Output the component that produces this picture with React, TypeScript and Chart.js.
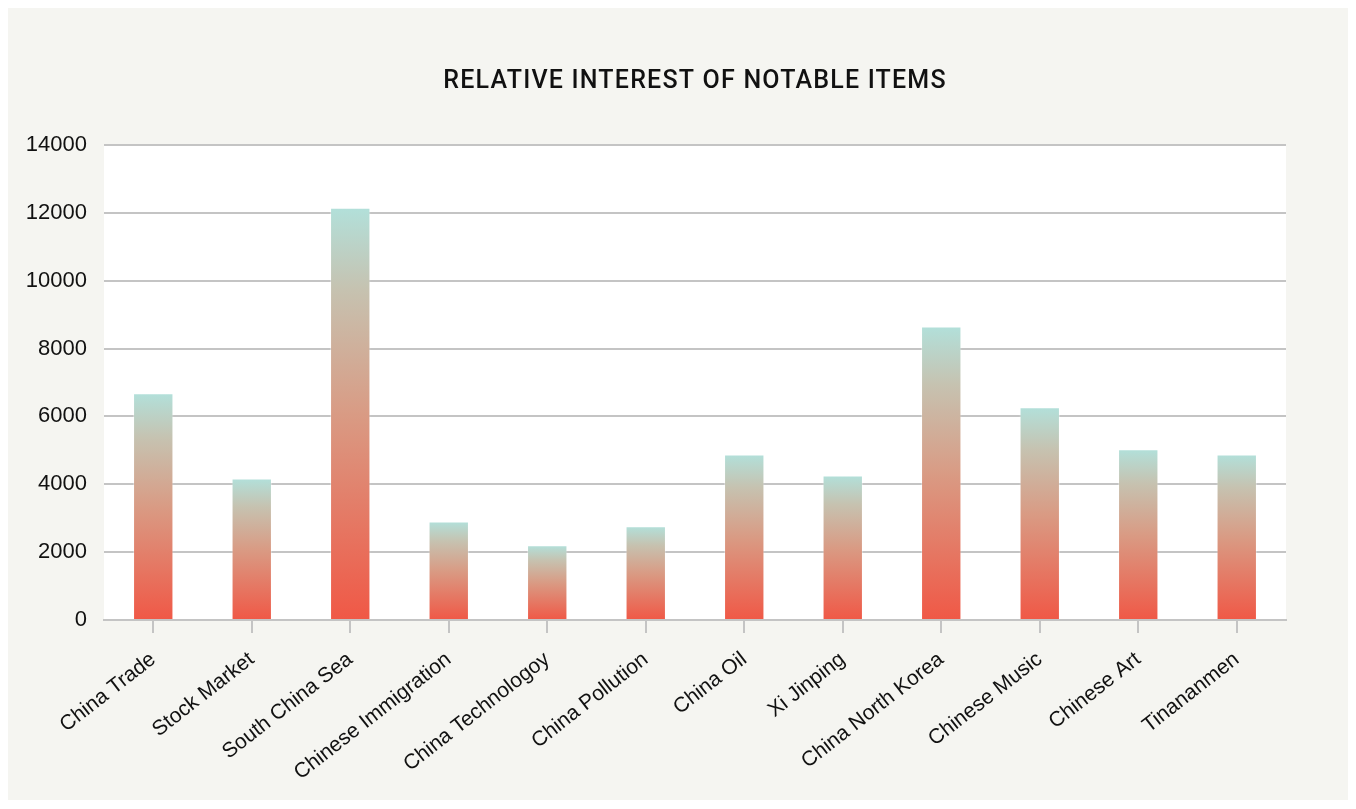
import React, { useEffect, useRef } from "react";
import { Chart, registerables } from "chart.js";

Chart.register(...registerables);

const TITLE = "RELATIVE INTEREST OF NOTABLE ITEMS";
const categories = [
  "China Trade",
  "Stock Market",
  "South China Sea",
  "Chinese Immigration",
  "China Technologoy",
  "China Pollution",
  "China Oil",
  "Xi Jinping",
  "China North Korea",
  "Chinese Music",
  "Chinese Art",
  "Tinananmen",
];
const interest = [6680, 4170, 12150, 2900, 2200, 2760, 4880, 4260, 8650, 6270, 5030, 4880];
const yTicks = [0, 2000, 4000, 6000, 8000, 10000, 12000, 14000];

const FONT = "'Liberation Sans', Arial, sans-serif";

export default function App() {
  const ref = useRef<HTMLCanvasElement | null>(null);

  useEffect(() => {
    if (!ref.current) return;
    const plotBg = {
      id: "plotBg",
      beforeDraw(chart: any) {
        const { ctx, chartArea } = chart;
        if (!chartArea) return;
        ctx.save();
        ctx.fillStyle = "#ffffff";
        ctx.fillRect(chartArea.left, chartArea.top, chartArea.right - chartArea.left, chartArea.bottom - chartArea.top);
        ctx.restore();
      },
      afterDraw(chart: any) {
        const { ctx, chartArea } = chart;
        ctx.save();
        ctx.fillStyle = "#111111";
        ctx.font = `500 25px Roboto, ${FONT}`;
        try { (ctx as any).letterSpacing = "1.2px"; } catch (e) {}
        ctx.textAlign = "center";
        ctx.textBaseline = "middle";
        ctx.fillText(TITLE, (chartArea.left + chartArea.right) / 2, 74);
        ctx.restore();
      },
    };

    const chart = new Chart(ref.current, {
      type: "bar",
      data: {
        labels: categories,
        datasets: [
          {
            data: interest,
            backgroundColor: (c: any) => {
              const chart = c.chart;
              const y = chart.scales && chart.scales.y;
              if (!y || c.type !== "data") return "#f05a48";
              const top = y.getPixelForValue(c.raw);
              const bottom = y.getPixelForValue(0);
              if (!isFinite(top) || !isFinite(bottom) || top === bottom) return "#f05a48";
              const g = chart.ctx.createLinearGradient(0, top, 0, bottom);
              g.addColorStop(0, "#b2e0da");
              g.addColorStop(0.2, "#c6c2b0");
              g.addColorStop(0.5, "#d99b84");
              g.addColorStop(1, "#f05846");
              return g;
            },
            borderColor: "rgba(255,255,255,0.35)",
            borderWidth: 1,
            barPercentage: 0.41,
            categoryPercentage: 1,
          },
        ],
      },
      options: {
        animation: false,
        responsive: false,
        maintainAspectRatio: false,
        layout: { padding: { top: 137, right: 62, left: 0, bottom: 0 } },
        plugins: {
          legend: { display: false },
          title: { display: false },
          tooltip: { enabled: false },
        },
        scales: {
          x: {
            grid: {
              offset: false,
              drawOnChartArea: false,
              drawTicks: true,
              tickLength: 13,
              color: "#c4c4c4",
              lineWidth: 2,
            },
            border: { display: true, color: "#c4c4c4", width: 2 },
            ticks: {
              color: "#111111",
              font: { family: FONT, size: 21 },
              minRotation: 38,
              maxRotation: 38,
              padding: 14,
              autoSkip: false,
            },
            afterFit: (s: any) => {
              s.height = 180;
            },
          },
          y: {
            min: 0,
            max: 14000,
            afterBuildTicks: (s: any) => {
              s.ticks = yTicks.map((v) => ({ value: v }));
            },
            grid: { color: "#c4c4c4", lineWidth: 2, drawTicks: false },
            border: { display: false },
            ticks: {
              color: "#111111",
              font: { family: FONT, size: 22 },
              padding: 17,
              callback: (v: any) => String(v),
            },
            afterFit: (s: any) => {
              s.width = 96;
            },
          },
        },
      },
      plugins: [plotBg],
    });
    return () => chart.destroy();
  }, []);

  return (
    <div style={{ width: 1340, height: 792, background: "#f5f5f1" }}>
      <canvas ref={ref} width={1340} height={792} style={{ display: "block" }} />
    </div>
  );
}
